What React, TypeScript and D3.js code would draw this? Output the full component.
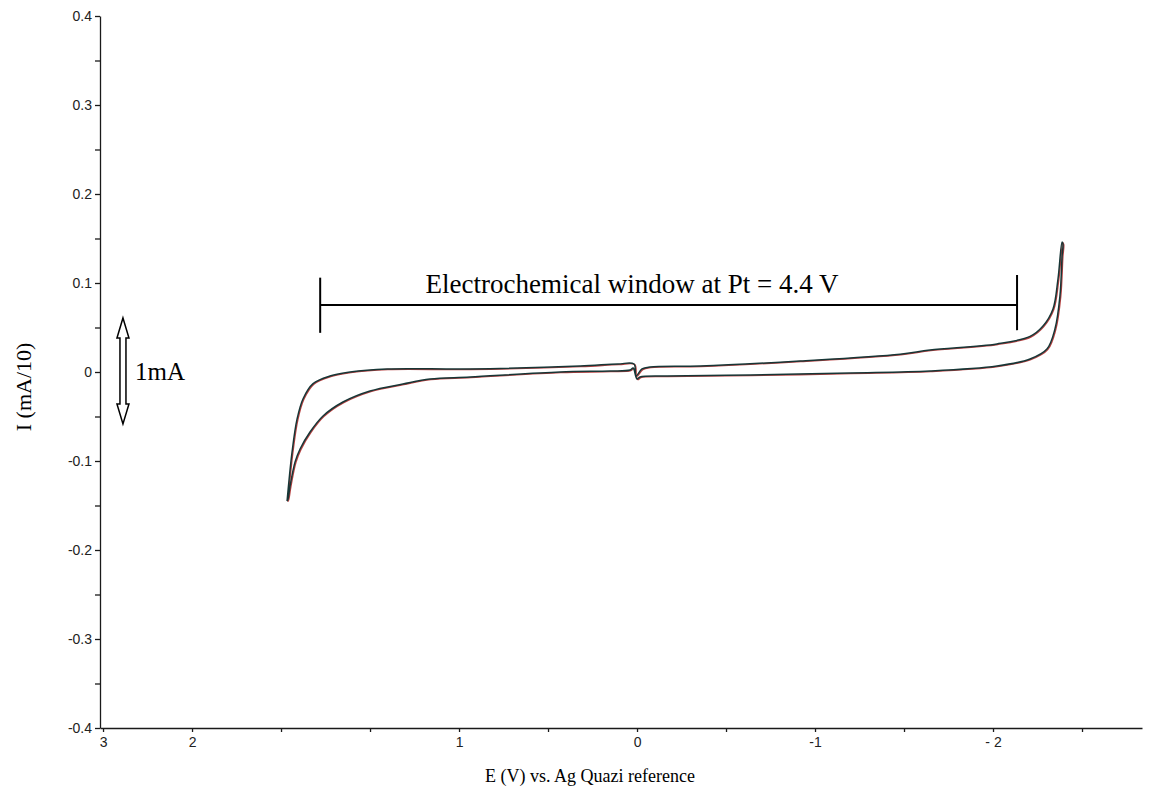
import React, { useEffect, useRef } from "react";
import * as d3 from "d3";

// forward scan (left tip -> right tip), E in V, I in mA/10
const forwardE = [1.966, 1.938, 1.91, 1.876, 1.82, 1.725, 1.612, 1.404, 0.938, 0.32, 0.107, 0.017, 0.006, -0.028, -0.073, -0.354, -0.916, -1.478, -1.646, -2.022, -2.208, -2.281, -2.337, -2.365, -2.388];
const forwardI = [-0.145, -0.09, -0.053, -0.03, -0.013, -0.0045, 0.0, 0.0034, 0.0034, 0.0067, 0.009, 0.009, -0.0045, 0.0034, 0.0056, 0.0067, 0.0124, 0.02, 0.0247, 0.0315, 0.04, 0.0517, 0.0708, 0.1045, 0.146];

// reverse scan (right tip -> left tip)
const reverseE = [-2.393, -2.388, -2.376, -2.348, -2.303, -2.208, -2.022, -1.646, -1.197, -0.635, -0.169, -0.017, 0.0, 0.022, 0.039, 0.152, 0.433, 0.938, 1.163, 1.315, 1.5, 1.652, 1.764, 1.837, 1.893, 1.921, 1.949, 1.961, 1.966];
const reverseI = [0.1438, 0.13, 0.0854, 0.0483, 0.0258, 0.0146, 0.0067, 0.0011, -0.0011, -0.0034, -0.0045, -0.0056, -0.0079, 0.0045, 0.0022, 0.0011, 0.0, -0.0056, -0.0079, -0.0135, -0.0213, -0.0337, -0.0494, -0.0674, -0.0865, -0.101, -0.128, -0.1427, -0.145];

const xTicks = [3, 2.5, 2, 1.5, 1, 0.5, 0, -0.5, -1, -1.5, -2, -2.5];
const xTickLabels = ["3", "2", "", "", "1", "", "0", "", "-1", "", "- 2", ""];
const yTicks = [0.4, 0.35, 0.3, 0.25, 0.2, 0.15, 0.1, 0.05, 0, -0.05, -0.1, -0.15, -0.2, -0.25, -0.3, -0.35, -0.4];
const yTickLabels = ["0.4", "", "0.3", "", "0.2", "", "0.1", "", "0", "", "-0.1", "", "-0.2", "", "-0.3", "", "-0.4"];

// electrochemical window marker
const windowE = [1.78, -2.135];
const windowI = 0.0753;
const windowBarTop = [0.106, 0.109];
const windowBarBottom = [0.044, 0.047];
const windowLabel = "Electrochemical window at Pt = 4.4 V";

// scale arrow
const arrowE = 2.888;
const arrowI = [0.0607, -0.0584];
const arrowLabel = "1mA";

const xTitle = "E (V) vs. Ag Quazi reference";
const yTitle = "I (mA/10)";

export default function App() {
  const ref = useRef<SVGSVGElement>(null);

  useEffect(() => {
    const svg = d3.select(ref.current);
    svg.selectAll("*").remove();

    var x = d3.scaleLinear().domain([3.017, -2.837]).range([100, 1142]);
    var y = d3.scaleLinear().domain([-0.4, 0.4]).range([728, 16]);

    var tickFont = "'Liberation Sans', Arial, sans-serif";
    var serif = "'Liberation Serif', 'Times New Roman', serif";

    // y axis
    var yAxis = svg
      .append("g")
      .attr("transform", `translate(${x.range()[0]},0)`)
      .call(
        d3
          .axisLeft(y)
          .tickValues(yTicks)
          .tickSize(5)
          .tickSizeOuter(0)
          .tickPadding(3)
          .tickFormat((d, i) => yTickLabels[i])
      );
    yAxis.attr("font-size", 14).attr("font-family", tickFont);
    yAxis.select(".domain").attr("stroke", "#1a1a1a").attr("stroke-width", 1.3);
    yAxis.selectAll("line").attr("stroke", "#1a1a1a").attr("stroke-width", 1.3);
    yAxis.selectAll("text").attr("font-size", 14).attr("fill", "#222");

    // x axis
    var xAxis = svg
      .append("g")
      .attr("transform", `translate(0,${y.range()[0]})`)
      .call(
        d3
          .axisBottom(x)
          .tickValues(xTicks)
          .tickSize(4)
          .tickSizeOuter(0)
          .tickPadding(5)
          .tickFormat((d, i) => xTickLabels[i])
      );
    xAxis.attr("font-size", 14).attr("font-family", tickFont);
    xAxis.select(".domain").attr("stroke", "#1a1a1a").attr("stroke-width", 1.3);
    xAxis.selectAll("line").attr("stroke", "#1a1a1a").attr("stroke-width", 1.3);
    xAxis.selectAll("text").attr("font-size", 14).attr("fill", "#222");

    // CV loop
    var loop = forwardE
      .map((e, i) => [e, forwardI[i]])
      .concat(reverseE.map((e, i) => [e, reverseI[i]]));

    var line = d3
      .line<number[]>()
      .x((d) => x(d[0]))
      .y((d) => y(d[1]))
      .curve(d3.curveCatmullRom.alpha(0.5));

    svg
      .append("path")
      .attr("d", line(loop))
      .attr("fill", "none")
      .attr("stroke", "#b84040")
      .attr("stroke-width", 1.4)
      .attr("transform", "translate(0.8,0.6)");

    svg
      .append("path")
      .attr("d", line(loop))
      .attr("fill", "none")
      .attr("stroke", "#173636")
      .attr("stroke-width", 1.5);

    // window marker
    var wg = svg.append("g").attr("stroke", "#000").attr("stroke-width", 2);
    wg.append("line")
      .attr("x1", x(windowE[0]))
      .attr("x2", x(windowE[1]))
      .attr("y1", y(windowI))
      .attr("y2", y(windowI));
    windowE.forEach((e, i) => {
      wg.append("line")
        .attr("x1", x(e))
        .attr("x2", x(e))
        .attr("y1", y(windowBarTop[i]))
        .attr("y2", y(windowBarBottom[i]));
    });
    svg
      .append("text")
      .attr("x", 632)
      .attr("y", y(windowI) - 12)
      .attr("text-anchor", "middle")
      .attr("font-family", serif)
      .attr("font-size", 27)
      .text(windowLabel);

    // 1mA double arrow
    var ax = x(arrowE);
    var y1 = y(arrowI[0]);
    var y2 = y(arrowI[1]);
    var hw = 6, sw = 3, hl = 20;
    var pts = [
      [ax, y1], [ax + hw, y1 + hl], [ax + sw, y1 + hl], [ax + sw, y2 - hl], [ax + hw, y2 - hl],
      [ax, y2], [ax - hw, y2 - hl], [ax - sw, y2 - hl], [ax - sw, y1 + hl], [ax - hw, y1 + hl],
    ];
    svg
      .append("polygon")
      .attr("points", pts.map((p) => p.join(",")).join(" "))
      .attr("fill", "#fff")
      .attr("stroke", "#000")
      .attr("stroke-width", 1.5);
    svg
      .append("text")
      .attr("x", ax + 12)
      .attr("y", (y1 + y2) / 2 + 9)
      .attr("font-family", serif)
      .attr("font-size", 25)
      .text(arrowLabel);

    // titles
    svg
      .append("text")
      .attr("x", 590)
      .attr("y", 782)
      .attr("text-anchor", "middle")
      .attr("font-family", serif)
      .attr("font-size", 18)
      .text(xTitle);
    svg
      .append("text")
      .attr("transform", `translate(31,${(y1 + y2) / 2 + 16}) rotate(-90)`)
      .attr("text-anchor", "middle")
      .attr("font-family", serif)
      .attr("font-size", 22)
      .text(yTitle);
  }, []);

  return (
    <svg
      ref={ref}
      width={1156}
      height={798}
      style={{ position: "absolute", left: 0, top: 0, background: "#fff" }}
    ></svg>
  );
}
